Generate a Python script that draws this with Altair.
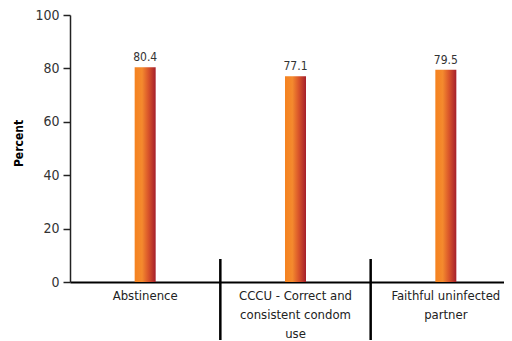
import altair as alt
import pandas as pd

categories = ["Abstinence", "CCCU - Correct and\nconsistent condom\nuse", "Faithful uninfected\npartner"]
values = [80.4, 77.1, 79.5]
y_ticks = [0, 20, 40, 60, 80, 100]

df = pd.DataFrame({"cat": categories, "value": values})
div_df = pd.DataFrame({"cat": categories[1:]})

FONT = "'Liberation Sans Narrow', 'DejaVu Sans Condensed', 'Roboto Condensed', 'Liberation Sans', sans-serif"

grad = alt.LinearGradient(
    gradient="linear",
    x1=0, x2=1, y1=0, y2=0,
    stops=[
        alt.GradientStop(color="#f5821f", offset=0),
        alt.GradientStop(color="#f48a2e", offset=0.35),
        alt.GradientStop(color="#d9552a", offset=0.65),
        alt.GradientStop(color="#a51f2b", offset=1),
    ],
)

xscale = alt.Scale(domain=categories, range=[0, 451], paddingInner=0, paddingOuter=0)

x_enc = alt.X(
    "cat:N",
    sort=categories,
    scale=xscale,
    title=None,
    axis=alt.Axis(
        labelAngle=0,
        labelExpr="split(datum.label, '\\n')",
        labelFont=FONT,
        labelFontSize=13,
        labelColor="#222222",
        labelLineHeight=19,
        labelPadding=7,
        labelLimit=200,
        ticks=False,
        domainColor="#000000",
        domainWidth=2,
    ),
)

y_enc = alt.Y(
    "value:Q",
    scale=alt.Scale(domain=[0, 100]),
    title="Percent",
    axis=alt.Axis(
        values=y_ticks,
        grid=False,
        labelFont=FONT,
        labelFontSize=14,
        labelColor="#333333",
        labelPadding=4,
        tickSize=7,
        tickColor="#222222",
        tickWidth=1.5,
        domainColor="#222222",
        domainWidth=1.5,
        titleFont=FONT,
        titleFontSize=12,
        titleFontWeight="bold",
        titleColor="#000000",
        titleAngle=270,
        titleX=-52,
        titleY=128,
        titleAlign="center",
        titleBaseline="middle",
    ),
)

bars = alt.Chart(df).mark_bar(size=21, color=grad).encode(x=x_enc, y=y_enc)

text = alt.Chart(df).mark_text(
    dy=-3, font=FONT, fontSize=12, color="#333333", baseline="bottom"
).encode(
    x=alt.X("cat:N", sort=categories, scale=xscale),
    y=alt.Y("value:Q"),
    text=alt.Text("value:Q", format=".1f"),
)

dividers = alt.Chart(div_df).mark_rule(color="#000000", strokeWidth=2.5).encode(
    x=alt.X("cat:N", sort=categories, scale=xscale, bandPosition=0),
    y=alt.value(244),
    y2=alt.value(340),
)

chart = (
    alt.layer(bars, text, dividers)
    .properties(
        width=434,
        height=267,
        autosize=alt.AutoSizeParams(type="none"),
        padding={"left": 62, "top": 7, "right": 0, "bottom": 58},
    )
    .configure_view(stroke=None)
)

chart.save("out.html", embed_options={"renderer": "svg", "actions": False})
